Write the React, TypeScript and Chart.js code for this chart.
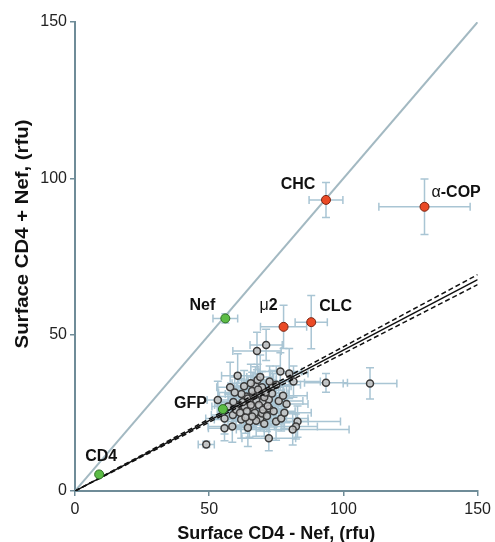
import React, { useEffect, useRef } from 'react';
import { Chart, registerables } from 'chart.js';

Chart.register(...registerables);

// ---- data ----
const axisTicks = [0, 50, 100, 150];
const xTitle = 'Surface CD4 - Nef, (rfu)';
const yTitle = 'Surface CD4 + Nef, (rfu)';

const screenX = [71.2, 67.8, 76.5, 79.8, 81.4, 93.5, 60.6, 57.8, 53.2, 67.2, 69.7, 68.7, 63.8, 65.0, 61.0, 63.1, 66.2, 69.9, 72.2, 73.4, 75.9, 78.8, 72.4, 58.8, 55.7, 61.9, 65.0, 69.0, 69.7, 74.9, 76.8, 82.9, 82.3, 81.1, 55.7, 58.6, 64.4, 72.2, 48.9, 109.9, 64.4, 66.5, 67.5, 68.5, 70.5, 62.5, 66.0, 71.0, 64.0, 67.0, 60.0, 70.0, 65.5, 73.5, 62.0, 59.0, 75.0, 68.0, 57.0, 71.5, 63.0, 65.5, 69.0, 72.5, 61.5, 67.5, 70.5, 74.0, 77.5, 59.5, 66.0, 68.2, 71.8, 63.5, 78.0];
const screenY = [46.7, 44.8, 38.2, 37.6, 35.0, 34.6, 36.9, 33.2, 29.1, 33.7, 33.2, 31.2, 30.2, 28.6, 27.5, 27.0, 26.8, 28.6, 29.3, 31.2, 28.8, 27.8, 26.4, 24.3, 23.2, 22.9, 22.2, 23.2, 24.8, 22.2, 23.2, 22.2, 20.6, 19.7, 20.1, 20.6, 20.2, 16.9, 14.9, 34.4, 29.6, 30.5, 29.0, 27.5, 30.0, 28.5, 32.0, 31.5, 25.5, 25.0, 26.0, 26.0, 27.5, 33.5, 31.0, 28.5, 34.0, 35.5, 27.0, 24.0, 33.5, 34.5, 36.5, 35.0, 25.0, 22.5, 21.5, 25.5, 30.5, 31.5, 23.8, 32.5, 27.2, 23.5, 25.0];
const screenXErr = [6, 9, 8, 7, 10, 8, 6, 5, 4, 7, 8, 6, 10, 7, 9, 6, 8, 5, 7, 6, 9, 8, 6, 8, 7, 10, 8, 6, 7, 12, 10, 16, 8, 21, 6, 9, 8, 10, 3, 10, 6, 8, 5, 7, 6, 8, 5, 7, 9, 6, 7, 8, 6, 7, 6, 5, 9, 7, 6, 7, 6, 7, 5, 8, 7, 9, 7, 8, 9, 6, 7, 6, 7, 8, 10];
const screenYErr = [5, 6, 6, 8, 5, 3, 7, 8, 6, 6, 5, 4, 5, 4, 5, 6, 4, 5, 6, 4, 5, 6, 5, 4, 5, 6, 5, 4, 5, 6, 4, 5, 4, 5, 4, 5, 6, 4, 1, 5, 5, 4, 5, 4, 5, 4, 6, 4, 5, 4, 5, 5, 4, 5, 5, 4, 6, 5, 4, 5, 5, 6, 7, 5, 4, 5, 4, 5, 5, 5, 4, 5, 4, 5, 5];

const hitNames = ['CD4', 'GFP', 'Nef', 'μ2', 'CLC', 'CHC', 'α-COP'];
const hitX = [9.0, 55.1, 56.0, 77.7, 88.0, 93.5, 130.2];
const hitY = [5.3, 26.2, 55.2, 52.5, 54.0, 93.1, 90.9];
const hitXErr = [0, 1.5, 4.6, 8.6, 6.0, 6.3, 17];
const hitYErr = [0, 1.5, 1.5, 6.9, 8.5, 5.6, 8.9];
const hitKind = ['control', 'control', 'control', 'hit', 'hit', 'hit', 'hit'];

const identityX = [0, 150];
const identityY = [0, 150];
const fitX = [0, 150];
const fitY = [0, 67.6];
const fitUpperY = [0, 69.2];
const fitLowerY = [0, 66.0];

// ---- layout / style ----
const FONT = "'Liberation Sans', Arial, Helvetica, sans-serif";
const AXIS_COLOR = '#6f8c98';
const ERR_COLOR = '#a9c5d4';
// label placement relative to the point, in pixels
const labelPlacement: Record<string, { dx: number; dy: number; align: CanvasTextAlign }> = {
  'CD4': { dx: 2, dy: -18, align: 'center' },
  'GFP': { dx: -16, dy: -5, align: 'right' },
  'Nef': { dx: -10, dy: -13, align: 'right' },
  'μ2': { dx: -15, dy: -21, align: 'center' },
  'CLC': { dx: 8, dy: -16, align: 'left' },
  'CHC': { dx: -28, dy: -15, align: 'center' },
  'α-COP': { dx: 7, dy: -14, align: 'left' },
};

const pts = (xs: number[], ys: number[]) => xs.map((v, i) => ({ x: v, y: ys[i] }));

const errorBarPlugin = {
  id: 'errorBars',
  beforeDatasetsDraw(chart: any) {
    const { ctx, scales } = chart;
    const xs = scales.x;
    const ys = scales.y;
    const cap = 4;
    ctx.save();
    ctx.strokeStyle = ERR_COLOR;
    ctx.lineWidth = 1.5;
    const draw = (vx: number, vy: number, ex: number, ey: number) => {
      const cx = xs.getPixelForValue(vx);
      const cy = ys.getPixelForValue(vy);
      ctx.beginPath();
      if (ex > 0) {
        const x1 = xs.getPixelForValue(vx - ex);
        const x2 = xs.getPixelForValue(vx + ex);
        ctx.moveTo(x1, cy); ctx.lineTo(x2, cy);
        ctx.moveTo(x1, cy - cap); ctx.lineTo(x1, cy + cap);
        ctx.moveTo(x2, cy - cap); ctx.lineTo(x2, cy + cap);
      }
      if (ey > 0) {
        const y1 = ys.getPixelForValue(vy - ey);
        const y2 = ys.getPixelForValue(vy + ey);
        ctx.moveTo(cx, y1); ctx.lineTo(cx, y2);
        ctx.moveTo(cx - cap, y1); ctx.lineTo(cx + cap, y1);
        ctx.moveTo(cx - cap, y2); ctx.lineTo(cx + cap, y2);
      }
      ctx.stroke();
    };
    screenX.forEach((v, i) => draw(v, screenY[i], screenXErr[i], screenYErr[i]));
    hitX.forEach((v, i) => draw(v, hitY[i], hitXErr[i], hitYErr[i]));
    ctx.restore();
  },
};

const labelPlugin = {
  id: 'pointLabels',
  afterDatasetsDraw(chart: any) {
    const { ctx, scales } = chart;
    ctx.save();
    ctx.fillStyle = '#111';
    ctx.textBaseline = 'middle';
    hitNames.forEach((name, i) => {
      const p = labelPlacement[name];
      const px = scales.x.getPixelForValue(hitX[i]) + p.dx;
      const py = scales.y.getPixelForValue(hitY[i]) + p.dy;
      const greek = /^[αμ]/.test(name) ? name[0] : '';
      const rest = greek ? name.slice(1) : name;
      const fGreek = `16px ${FONT}`;
      const fBold = `bold 16px ${FONT}`;
      ctx.font = fGreek;
      const wg = greek ? ctx.measureText(greek).width : 0;
      ctx.font = fBold;
      const wr = ctx.measureText(rest).width;
      const total = wg + wr;
      let left = px;
      if (p.align === 'center') left = px - total / 2;
      else if (p.align === 'right') left = px - total;
      ctx.textAlign = 'left';
      if (greek) {
        ctx.font = fGreek;
        ctx.fillText(greek, left, py);
      }
      ctx.font = fBold;
      ctx.fillText(rest, left + wg, py);
    });
    ctx.restore();
  },
};

// y-axis title, drawn slightly stretched along its length like the source figure
const yTitlePlugin = {
  id: 'yTitle',
  afterDraw(chart: any) {
    const { ctx } = chart;
    ctx.save();
    ctx.translate(23, 234);
    ctx.rotate(-Math.PI / 2);
    ctx.scale(1.13, 1);
    ctx.font = `bold 18px ${FONT}`;
    ctx.fillStyle = '#111';
    ctx.textAlign = 'center';
    ctx.textBaseline = 'middle';
    ctx.fillText(yTitle, 0, 0);
    ctx.restore();
  },
};

export default function App() {
  const ref = useRef<HTMLCanvasElement | null>(null);

  useEffect(() => {
    if (!ref.current) return;
    const hitColors = hitKind.map((k) => (k === 'control' ? '#5cbc45' : '#ea4a26'));
    const hitBorders = hitKind.map((k) => (k === 'control' ? '#2e6f25' : '#7a2412'));
    const chart = new Chart(ref.current, {
      type: 'scatter',
      data: {
        datasets: [
          {
            label: 'hits',
            data: pts(hitX, hitY),
            backgroundColor: hitColors,
            borderColor: hitBorders,
            borderWidth: 1,
            pointRadius: 4.5,
            order: 0,
          },
          {
            label: 'fit',
            data: pts(fitX, fitY),
            showLine: true,
            borderColor: '#111',
            borderWidth: 1.5,
            pointRadius: 0,
            order: 1,
          },
          {
            label: 'fit upper',
            data: pts(fitX, fitUpperY),
            showLine: true,
            borderColor: '#111',
            borderWidth: 1.5,
            borderDash: [5, 3],
            pointRadius: 0,
            order: 1,
          },
          {
            label: 'fit lower',
            data: pts(fitX, fitLowerY),
            showLine: true,
            borderColor: '#111',
            borderWidth: 1.5,
            borderDash: [5, 3],
            pointRadius: 0,
            order: 1,
          },
          {
            label: 'screen',
            data: pts(screenX, screenY),
            backgroundColor: 'rgba(195,195,195,0.85)',
            borderColor: '#3a3a3a',
            borderWidth: 1.5,
            pointRadius: 3.5,
            order: 2,
          },
          {
            label: 'identity',
            data: pts(identityX, identityY),
            showLine: true,
            borderColor: '#a3b9c2',
            borderWidth: 2,
            pointRadius: 0,
            order: 3,
          },
        ],
      },
      options: {
        animation: false,
        responsive: false,
        devicePixelRatio: 1,
        layout: { padding: { left: 0, right: 16, top: 22, bottom: 0 } },
        plugins: { legend: { display: false }, tooltip: { enabled: false } },
        scales: {
          x: {
            type: 'linear',
            min: 0,
            max: 150,
            afterFit: (s: any) => { s.height = 51; },
            afterBuildTicks: (s: any) => { s.ticks = axisTicks.map((v) => ({ value: v })); },
            ticks: { color: '#222', font: { family: FONT, size: 16 }, padding: 4 },
            grid: { display: true, drawOnChartArea: false, drawTicks: true, tickLength: 5, color: AXIS_COLOR, lineWidth: 1.5 },
            border: { display: true, color: AXIS_COLOR, width: 2 },
            title: {
              display: true,
              text: xTitle,
              color: '#111',
              font: { family: FONT, size: 18, weight: 'bold', lineHeight: 1 },
              padding: { top: 0, bottom: -1 },
            },
          },
          y: {
            type: 'linear',
            min: 0,
            max: 150,
            afterFit: (s: any) => { s.width = 75; },
            afterBuildTicks: (s: any) => { s.ticks = axisTicks.map((v) => ({ value: v })); },
            ticks: { color: '#222', font: { family: FONT, size: 16 }, padding: 3 },
            grid: { display: true, drawOnChartArea: false, drawTicks: true, tickLength: 5, color: AXIS_COLOR, lineWidth: 1.5 },
            border: { display: true, color: AXIS_COLOR, width: 2 },
            title: { display: false },
          },
        },
      },
      plugins: [errorBarPlugin, labelPlugin, yTitlePlugin],
    } as any);
    return () => chart.destroy();
  }, []);

  return (
    <div style={{ position: 'absolute', left: 0, top: 0, width: 495, height: 542, background: '#fff' }}>
      <canvas ref={ref} width={495} height={542} style={{ width: 495, height: 542, display: 'block' }} />
    </div>
  );
}
